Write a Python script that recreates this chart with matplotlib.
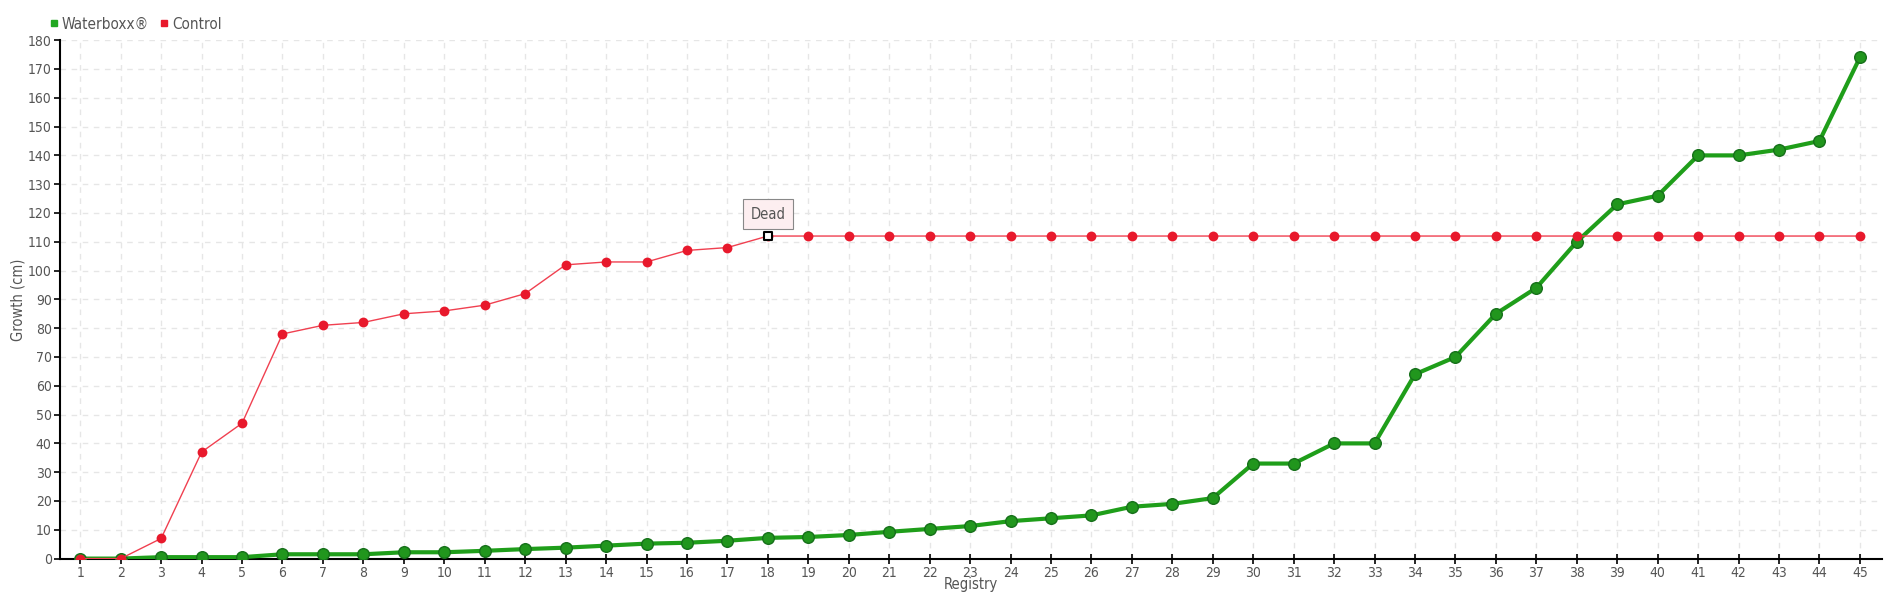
import numpy as np
import matplotlib.pyplot as plt
from matplotlib.lines import Line2D
from matplotlib import font_manager

names = {f.name for f in font_manager.fontManager.ttflist}
if 'Liberation Sans Narrow' in names:
    plt.rcParams['font.family'] = ['Liberation Sans Narrow', 'DejaVu Sans']
else:
    plt.rcParams['font.family'] = ['DejaVu Sans']
    plt.rcParams['font.stretch'] = 'condensed'

registry = list(range(1, 46))
waterboxx = [0, 0, 0.5, 0.5, 0.5, 1.5, 1.5, 1.5, 2.2, 2.2,
             2.7, 3.3, 3.8, 4.5, 5.2, 5.5, 6.2, 7.2, 7.5, 8.2,
             9.3, 10.3, 11.3, 13, 14, 15, 18, 19, 21, 33,
             33, 40, 40, 64, 70, 85, 94, 110, 123, 126,
             140, 140, 142, 145, 174]
control = [0, 0, 7, 37, 47, 78, 81, 82, 85, 86,
           88, 92, 102, 103, 103, 107, 108, 112] + [112] * 27
dead_at = 18

text_col = '#555555'
green = '#1f9e1a'
red = '#e8192c'

fig = plt.figure(figsize=(19, 6), dpi=100)
ax = fig.add_axes([0.0316, 0.069, 0.959, 0.864])

ax.plot(registry, waterboxx, color=green, linewidth=3, zorder=3)
ax.scatter(registry, waterboxx, s=70, color='#21961d', edgecolor='#16701a',
           linewidths=1, zorder=4)

ax.plot(registry, control, color='#f04050', linewidth=1, zorder=5)
ax.scatter(registry, control, s=50, color=red, zorder=6, linewidths=0)

# dead marker on the control line
i = registry.index(dead_at)
ax.scatter([dead_at], [control[i]], s=28, marker='s', color='white',
           edgecolor='black', linewidths=1.5, zorder=7)
ax.annotate('Dead', xy=(dead_at, control[i]), xytext=(0, 22),
            textcoords='offset pixels', ha='center', va='center',
            fontsize=10.5, color=text_col,
            bbox=dict(boxstyle='square,pad=0.5', fc='#fdeef0', ec='#888888', lw=0.8),
            zorder=8)

ax.set_xlim(0.5, 45.55)
ax.set_ylim(0, 180)
ax.set_xticks(registry)
ax.set_yticks(np.arange(0, 181, 10))
ax.grid(True, color='#e6e6e6', linestyle=(0, (4, 4)), linewidth=1)
ax.set_axisbelow(True)

for s in ['top', 'right']:
    ax.spines[s].set_visible(False)
ax.spines['left'].set_linewidth(1.5)
ax.spines['bottom'].set_linewidth(1.5)
ax.tick_params(axis='x', direction='inout', length=7, width=1.2,
               labelsize=10, labelcolor=text_col, pad=2)
ax.tick_params(axis='y', direction='out', length=4, width=1.2,
               labelsize=10, labelcolor=text_col, pad=2)

ax.set_xlabel('Registry', fontsize=10.5, color=text_col, labelpad=-2)
ax.set_ylabel('Growth (cm)', fontsize=10.5, color=text_col, labelpad=2)

handles = [Line2D([], [], marker='s', linestyle='', color='#22a822', markersize=5),
           Line2D([], [], marker='s', linestyle='', color=red, markersize=5)]
fig.legend(handles, ['Waterboxx®', 'Control'], loc='upper left',
           bbox_to_anchor=(0.018, 0.995), ncol=2, frameon=False,
           fontsize=11, labelcolor=text_col, handletextpad=0.1,
           columnspacing=0.6, handlelength=0.8)

fig.savefig('out.png', dpi=100)
